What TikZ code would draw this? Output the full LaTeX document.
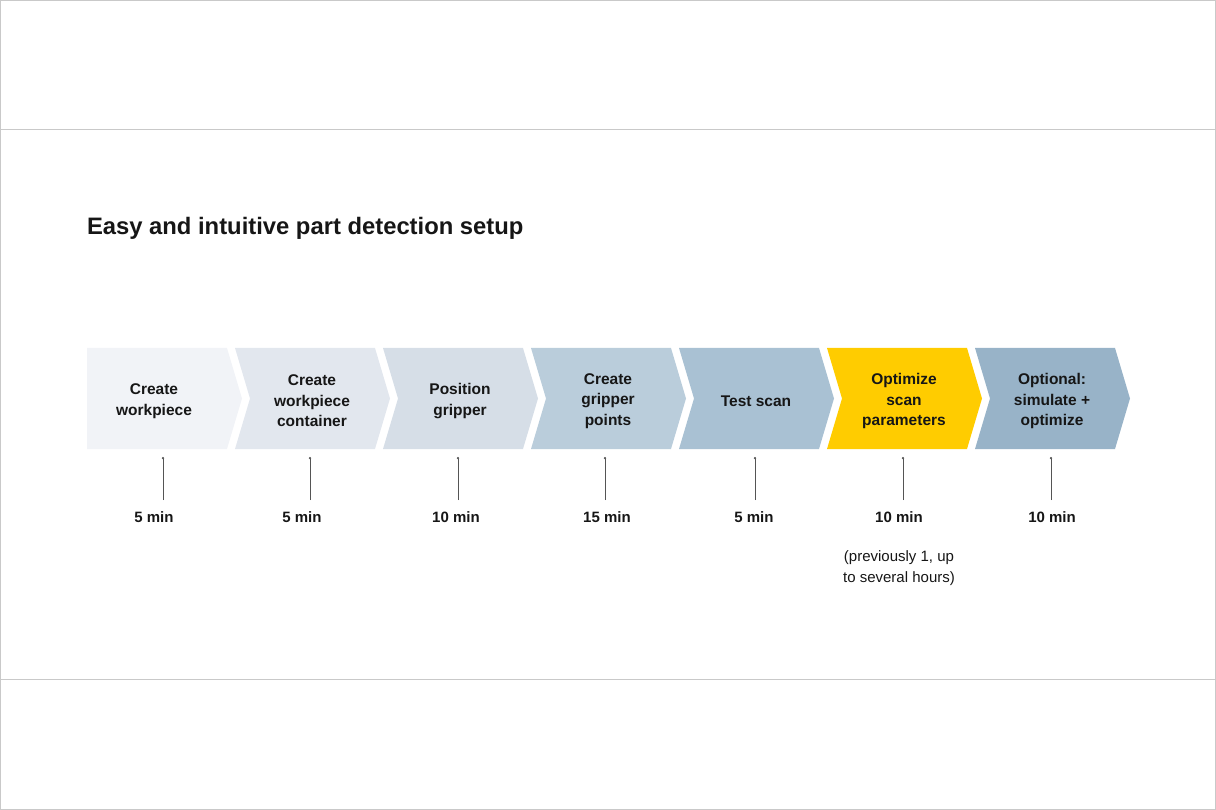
\documentclass[tikz,border=0pt]{standalone}
\usepackage{fontspec}
\setmainfont{Liberation Sans}
\usetikzlibrary{arrows.meta}
\definecolor{frame}{HTML}{C9C9C9}
\definecolor{ink}{HTML}{161616}
\definecolor{tick}{HTML}{555555}
\definecolor{cA}{HTML}{F1F3F7}
\definecolor{cB}{HTML}{E2E7EE}
\definecolor{cC}{HTML}{D6DEE7}
\definecolor{cD}{HTML}{BACDDB}
\definecolor{cE}{HTML}{A9C1D3}
\definecolor{cF}{HTML}{FFCC00}
\definecolor{cG}{HTML}{98B3C8}
\tikzset{
  steptext/.style={text=ink, align=center, font=\fontsize{15.5}{20.5}\selectfont\bfseries},
  timetext/.style={text=ink, font=\fontsize{15}{18}\selectfont\bfseries},
  notetext/.style={text=ink, align=center, font=\fontsize{15}{21}\selectfont},
  tickline/.style={draw=tick, line width=0.9pt, -{Circle[length=2.2pt]}},
}
\newcommand{\chevron}[2]{%
  \fill[#2] (#1,348) -- ++(140,0) -- ++(15,50.5) -- ++(-15,50.5) -- ++(-140,0) -- ++(15,-50.5) -- cycle;}
\begin{document}
\begin{tikzpicture}[x=1pt,y=-1pt]
\useasboundingbox (0,0) rectangle (1216,810);
\draw[frame, line width=1pt] (0.5,0.5) rectangle (1215.5,809.5);
\draw[frame, line width=1pt] (0,129.5) -- (1216,129.5);
\draw[frame, line width=1pt] (0,679.5) -- (1216,679.5);
\node[anchor=west, text=ink, font=\fontsize{23.8}{26}\selectfont\bfseries] (title) at (83.5,228.5) {Easy and intuitive part detection setup};
% chevrons
\fill[cA] (87,348) -- ++(140,0) -- ++(15,50.5) -- ++(-15,50.5) -- ++(-140,0) -- cycle;
\chevron{235}{cB}
\chevron{383}{cC}
\chevron{531}{cD}
\chevron{679}{cE}
\chevron{827}{cF}
\chevron{975}{cG}
\node[steptext] (s1) at (154,401) {Create\\workpiece};
\node[steptext] (s2) at (312,401) {Create\\workpiece\\container};
\node[steptext] (s3) at (460,401) {Position\\gripper};
\node[steptext] (s4) at (608,401) {Create\\gripper\\points};
\node[steptext] (s5) at (756,401) {Test scan};
\node[steptext] (s6) at (904,401) {Optimize\\scan\\parameters};
\node[steptext] (s7) at (1052,401) {Optional:\\simulate +\\optimize};
% times
\node[timetext] (m1) at (154,517) {5 min};
\node[timetext] (m2) at (302,517) {5 min};
\node[timetext] (m3) at (456,517) {10 min};
\node[timetext] (m4) at (607,517) {15 min};
\node[timetext] (m5) at (754,517) {5 min};
\node[timetext] (m6) at (899,517) {10 min};
\node[timetext] (m7) at (1052,517) {10 min};
\node[notetext] (note) at (899,568) {(previously 1, up\\to several hours)};
% ticks
\foreach \i/\x in {1/163,2/310,3/458,4/605,5/755,6/903,7/1051}{
  \coordinate (b\i) at (\x,500);
  \coordinate (a\i) at (\x,457);
  \draw[tickline] (b\i) -- (a\i);
}
\end{tikzpicture}
\end{document}
